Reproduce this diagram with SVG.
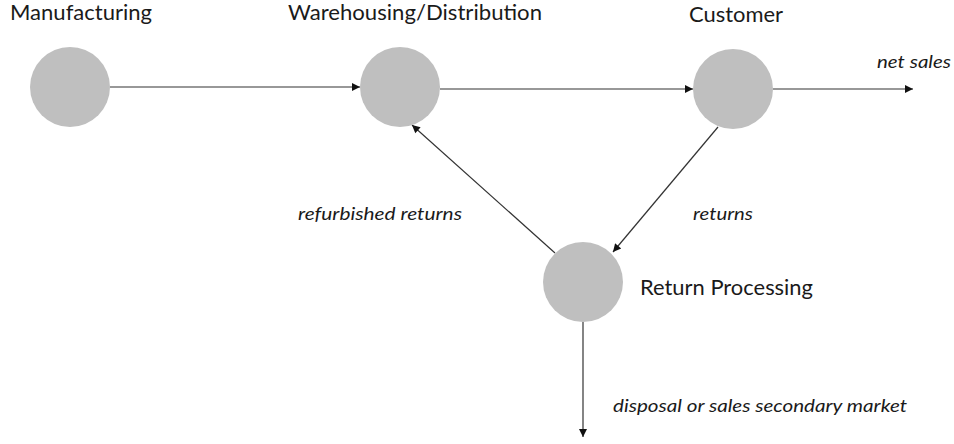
<svg xmlns="http://www.w3.org/2000/svg" width="954" height="444" viewBox="0 0 954 444">
<defs>
<marker id="ah" viewBox="0 0 10 10" refX="10" refY="5" markerWidth="10" markerHeight="8" markerUnits="userSpaceOnUse" orient="auto">
<path d="M0,0 L10,5 L0,10 z" fill="#111"/>
</marker>
<style>
.node{fill:#bfbfbf}
.lbl{font-family:Lato,"Open Sans",sans-serif;font-size:21px;fill:#1a1a1a}
.it{font-family:Lato,"Open Sans",sans-serif;font-size:18px;font-style:italic;fill:#1a1a1a}
.edge{stroke:#333;stroke-width:1.2;fill:none;marker-end:url(#ah)}
</style>
</defs>
<rect width="954" height="444" fill="#fff"/>
<g id="connectors">
<line class="edge" x1="110" y1="87" x2="360" y2="87"/>
<line class="edge" x1="440" y1="89" x2="693" y2="89"/>
<line class="edge" x1="773" y1="89" x2="913" y2="89"/>
<line class="edge" x1="718" y1="127" x2="613" y2="252"/>
<line class="edge" x1="555" y1="253" x2="412" y2="125"/>
<line class="edge" x1="583" y1="322" x2="583" y2="437"/>
<text class="it" x="877" y="68" textLength="74" lengthAdjust="spacingAndGlyphs">net sales</text>
<text class="it" x="298" y="220" textLength="164" lengthAdjust="spacingAndGlyphs">refurbished returns</text>
<text class="it" x="693" y="220" textLength="60" lengthAdjust="spacingAndGlyphs">returns</text>
<text class="it" x="613" y="412" textLength="294" lengthAdjust="spacingAndGlyphs">disposal or sales secondary market</text>
</g>
<g id="manufacturing">
<circle class="node" cx="70" cy="87" r="40"/>
<text class="lbl" x="10" y="20" textLength="142" lengthAdjust="spacingAndGlyphs">Manufacturing</text>
</g>
<g id="warehousing">
<circle class="node" cx="400" cy="87" r="40"/>
<text class="lbl" x="288" y="20" textLength="254" lengthAdjust="spacingAndGlyphs">Warehousing/Distribution</text>
</g>
<g id="customer">
<circle class="node" cx="733" cy="89" r="40"/>
<text class="lbl" x="689" y="22" textLength="94" lengthAdjust="spacingAndGlyphs">Customer</text>
</g>
<g id="return-processing">
<circle class="node" cx="583" cy="282" r="40"/>
<text class="lbl" x="640" y="295" textLength="173" lengthAdjust="spacingAndGlyphs">Return Processing</text>
</g>
</svg>
